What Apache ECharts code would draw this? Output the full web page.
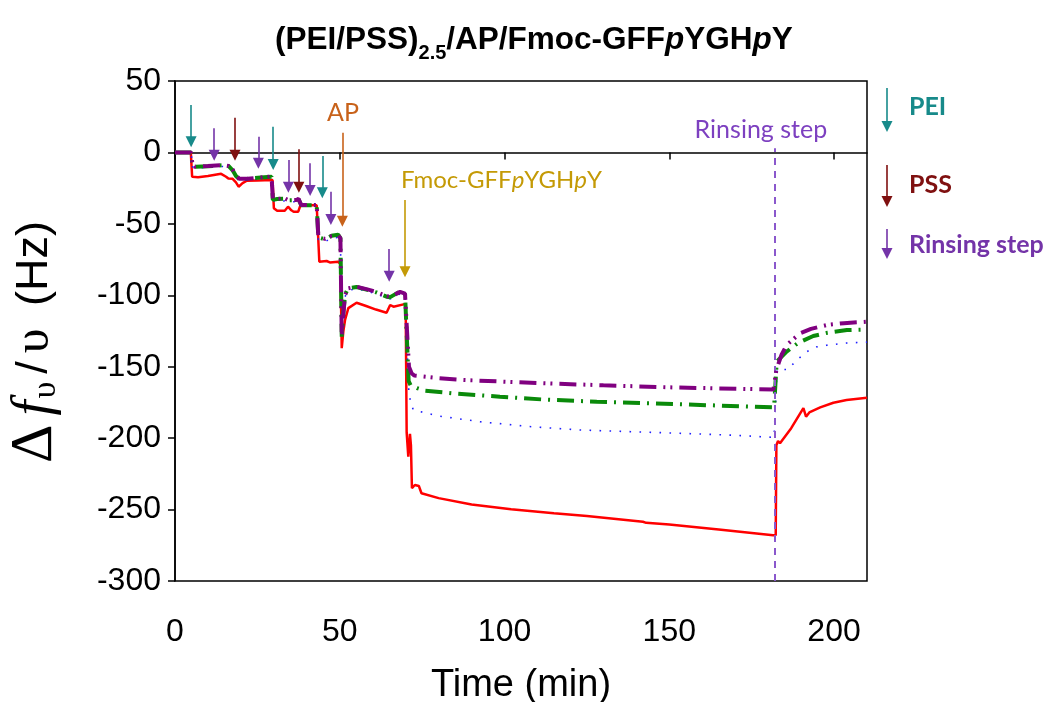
<!DOCTYPE html>
<html>
<head>
<meta charset="utf-8">
<script src="https://cdn.jsdelivr.net/npm/echarts@6/dist/echarts.min.js"></script>
<style>html,body{margin:0;padding:0;background:#fff}#c{width:1048px;height:702px}</style>
</head>
<body>
<div id="c"></div>
<script>
// ---------- data ----------
const xTicks = [0, 50, 100, 150, 200];
const yTicks = [-300, -250, -200, -150, -100, -50, 0, 50];

const tRed = [0,4.8,5.2,7,10,14,15.5,16.2,17.5,18.5,19.3,20.5,21.8,25,29.6,30.0,31,33.3,34.3,35.3,36,37.4,38.1,43,43.5,43.8,46,47,49.5,50.2,50.6,51.1,51.6,52.6,55.1,58,61,64.2,65.3,66.3,70.0,70.3,70.8,71.3,71.6,71.9,72.8,74,74.8,80,90,102,115,125,142,143,150,165,181.5,182.3,182.5,183,183.6,187,190.7,191.5,192.5,195.8,199.8,203.8,210];
const red  = [0,0,-17,-17.3,-16.5,-15,-17,-18.3,-18.5,-21,-24,-21.5,-19.8,-19.6,-19.3,-39,-40.8,-40.8,-38,-40.5,-41.5,-41.5,-36.8,-37,-37.5,-76.5,-76,-77,-76.5,-78,-137,-125,-117.3,-109,-105.2,-107.5,-110,-112.2,-106.8,-108,-106,-196,-213,-197,-205,-235,-232.8,-233.5,-238.6,-242,-246.5,-249.8,-252.5,-254.5,-258.5,-259.3,-260.5,-264,-268,-268,-205,-202,-203.6,-193,-179,-185,-182,-178.5,-175.2,-173.3,-171.7];

const tPurple = [0,4.9,5.3,6,10,14.5,16.3,17.5,18.5,19.5,22,26,29.3,29.7,31,33.3,34.3,36.8,37.5,38.3,43,43.5,45.5,47.5,49.5,50.2,50.6,51.1,51.6,52.6,55.1,58.1,61.1,64.2,65.3,68.3,69.8,70.3,
  71.0,71.8,72.6,80,87.5,111.8,130,151.2,181.6,182.1,182.5,184,185.6,189.7,193,197.8,203,210];
const purple = [0,0,-9,-10,-9.5,-8.8,-9.5,-12,-16,-18.5,-18.5,-17.5,-16.8,-33,-32.5,-32.2,-33.3,-33.3,-32.5,-36.8,-36.8,-59,-60.5,-58.6,-58,-60,-129,-112.6,-99.8,-95.1,-94,-95.7,-97.6,-100.6,-101.1,-97.6,-98.8,-100,
  -150,-154.6,-156.2,-158,-159.3,-161.6,-163,-164.5,-166,-166,-152.3,-142,-134.8,-126.6,-123.5,-120.8,-119.5,-118.5];

const tGreen = [0,4.9,5.3,6,10,14.5,16.3,17.5,18.5,19.5,22,26,29.3,29.7,31,33.3,34.3,36.8,37.5,38.3,43,43.5,45.5,47.5,49.5,50.2,50.6,51.1,51.6,52.6,55.1,58.1,61.1,64.2,65.3,68.3,69.8,70.3,
  70.9,71.5,73.4,75.9,85,98.6,112,128,151.2,165,181.8,182.2,182.6,185.6,189,193.7,198,203.9,210];
const green = [0,0,-9.5,-10,-9.7,-9,-9.6,-12.5,-16.5,-18.7,-18.5,-17.6,-17,-33.2,-32.6,-32.4,-33.5,-33.4,-32.8,-37,-37,-59.5,-60.8,-58.3,-57.6,-60,-129,-112,-99.5,-95,-94.2,-96,-98,-101,-101.3,-97.3,-98.6,-100,
  -160,-163,-165,-166.8,-168.8,-171,-173,-174.5,-176.1,-177.2,-178.5,-178,-146.5,-139.5,-133.5,-128.5,-126.2,-124.3,-124];

const tBlue = [0,4.9,5.3,6,10,14.5,16.3,17.5,18.5,19.5,22,26,29.3,29.7,31,33.3,34.3,36.8,37.5,38.3,43,43.5,45.5,47.5,49.5,50.2,50.6,51.1,51.6,52.6,55.1,58.1,61.1,64.2,65.3,68.3,69.8,70.3,
  71,72.3,80,92.6,107,122.9,153.2,170,181.8,182.3,182.7,186,188.7,191.7,194.7,197.7,203.8,210];
const blue = [0,0,-10,-11,-10.5,-9.8,-10.5,-13,-17,-19.5,-19.5,-18.5,-17.8,-34,-34,-34,-34.5,-34.5,-33.5,-37.5,-37.5,-61,-62.5,-60,-59.5,-61,-128,-113,-101,-96.5,-95.5,-97,-99,-102,-102.5,-99,-100,-101,
  -170,-180.3,-184.5,-188.5,-191.8,-194.3,-196.6,-198,-199.5,-199,-152,-152,-145.3,-139.5,-136.1,-135,-133.4,-132.8];

// injection / rinsing arrows (time, top value, tip value, kind)
const arrowTimes = [4.9, 11.9, 18.2, 25.3, 29.8, 34.4, 37.6, 41.0, 44.7, 47.3, 50.8, 65.0, 69.8];
const arrowTops  = [33.2, 16.9, 24.3, 11.0, 18.0, -5.3, 2.2, -7.6, -2.5, -27.5, 13.8, -67.6, -33.3];
const arrowTips  = [3.6, -5.8, -5.8, -11.4, -12.3, -28.2, -28.2, -30.5, -32.1, -50.8, -52.0, -90.5, -87.4];
const arrowKinds = ['PEI','rinse','PSS','rinse','PEI','rinse','PSS','rinse','PEI','rinse','AP','rinse','Fmoc'];
const rinseTime = 182;

// ---------- styling ----------
const C = {
  PEI: '#178a8a', PSS: '#7f1010', rinse: '#7434a8', AP: '#c8621a', Fmoc: '#c49a06',
  rinseLine: '#8a58cc', rinseText: '#7d40c0'
};
const AX = 'Liberation Sans, Arial, sans-serif';
const SR = 'Liberation Serif, Times New Roman, serif';
const LB = 'Lato, Carlito, sans-serif';
const headHalf = 3.9; // half of arrow head height in Hz units

const zip = (t, v) => t.map((x, i) => [x, v[i]]);

const arrowLines = arrowTimes.map((t, i) => [
  { coord: [t, arrowTops[i]], lineStyle: { color: C[arrowKinds[i]], width: 1.6, type: 'solid' } },
  { coord: [t, arrowTips[i] + headHalf] }
]);
arrowLines.push([
  { coord: [rinseTime, -300], symbol: 'none', lineStyle: { color: C.rinseLine, width: 2, type: [7, 6] } },
  { coord: [rinseTime, 3], symbol: 'none' }
]);

const hidden = { color: 'rgba(0,0,0,0)' };
const markTexts = [
  { coord: [51.0, 27.5], symbol: 'rect', symbolSize: 1, itemStyle: hidden,
    label: { show: true, position: 'inside', formatter: 'AP', color: C.AP, fontSize: 25, fontFamily: LB } },
  { coord: [68.4, -19.3], symbol: 'rect', symbolSize: 1, itemStyle: hidden,
    label: { show: true, position: 'right', distance: 0, formatter: '{a|Fmoc-GFF}{b|p}{a|YGH}{b|p}{a|Y}',
      rich: { a: { color: C.Fmoc, fontSize: 24, fontFamily: LB }, b: { color: C.Fmoc, fontSize: 24, fontFamily: LB, fontStyle: 'italic' } } } },
  { coord: [177.8, 15.6], symbol: 'rect', symbolSize: 1, itemStyle: hidden,
    label: { show: true, position: 'inside', formatter: 'Rinsing step', color: C.rinseText, fontSize: 25, fontFamily: LB } }
];

function legendArrow(x, y0, y1, color) {
  return [
    { type: 'line', shape: { x1: x, y1: y0, x2: x, y2: y1 - 8 }, style: { stroke: color, lineWidth: 1.6 } },
    { type: 'polygon', shape: { points: [[x - 5.5, y1 - 11], [x + 5.5, y1 - 11], [x, y1]] }, style: { fill: color } }
  ];
}
const legendItems = [
  ...legendArrow(887, 88, 132, C.PEI),
  { type: 'text', left: 909, top: 94, style: { text: 'PEI', fill: C.PEI, font: 'bold 25px ' + LB } },
  ...legendArrow(887, 165, 207, C.PSS),
  { type: 'text', left: 909, top: 172, style: { text: 'PSS', fill: C.PSS, font: 'bold 25px ' + LB } },
  ...legendArrow(887, 229, 259, C.rinse),
  { type: 'text', left: 909, top: 232, style: { text: 'Rinsing step', fill: C.rinse, font: 'bold 25px ' + LB } }
];

const chart = echarts.init(document.getElementById('c'));
chart.setOption({
  animation: false,
  backgroundColor: '#fff',
  title: {
    left: 270, top: 12,
    text: '{m|(PEI/PSS)}{s|2.5}{m|/AP/Fmoc-GFF}{i|p}{m|YGH}{i|p}{m|Y}',
    textStyle: {
      rich: {
        m: { fontFamily: AX, fontWeight: 'bold', fontSize: 31.5, color: '#000', lineHeight: 46, verticalAlign: 'middle' },
        i: { fontFamily: AX, fontWeight: 'bold', fontStyle: 'italic', fontSize: 31.5, color: '#000', lineHeight: 46, verticalAlign: 'middle' },
        s: { fontFamily: AX, fontWeight: 'bold', fontSize: 20, color: '#000', lineHeight: 20, verticalAlign: 'bottom' }
      }
    }
  },
  grid: { left: 175, right: 181, top: 81, bottom: 121, show: true, borderColor: '#000', borderWidth: 1.5,
    backgroundColor: 'transparent', containLabel: false, outerBoundsMode: 'none' },
  xAxis: {
    type: 'value', min: xTicks[0], max: 210, interval: 50,
    axisLine: { lineStyle: { color: '#000', width: 1.5 } },
    axisTick: { show: true, inside: false, length: 7, lineStyle: { color: '#000', width: 1.5 } },
    axisLabel: { color: '#000', fontSize: 32, fontFamily: AX, margin: 35, showMaxLabel: false,
      formatter: v => (xTicks.indexOf(v) >= 0 ? String(v) : '') },
    splitLine: { show: false },
    name: 'Time (min)', nameLocation: 'middle', nameGap: 86,
    nameTextStyle: { color: '#000', fontSize: 38, fontFamily: AX }
  },
  yAxis: {
    type: 'value', min: yTicks[0], max: yTicks[yTicks.length - 1], interval: 50,
    axisLine: { lineStyle: { color: '#000', width: 1.5 } },
    axisTick: { show: true, inside: false, length: 7, lineStyle: { color: '#000', width: 1.5 } },
    axisLabel: { color: '#000', fontSize: 32, fontFamily: AX, margin: 14 },
    splitLine: { show: false },
    name: '{d|Δ}{i|f}{s|υ}{n|/}{u|υ}{n| (Hz)}', nameLocation: 'middle', nameGap: 112, nameRotate: 90,
    nameTextStyle: {
      padding: [0, 22, 0, 0],
      rich: {
        d: { fontFamily: SR, fontSize: 60, color: '#000', lineHeight: 56, verticalAlign: 'middle', padding: [0, 7, 0, 0] },
        n: { fontFamily: AX, fontSize: 45, color: '#000', lineHeight: 56, verticalAlign: 'middle' },
        u: { fontFamily: SR, fontSize: 50, color: '#000', lineHeight: 56, verticalAlign: 'middle', padding: [0, 10, 0, 8] },
        i: { fontFamily: SR, fontSize: 54, color: '#000', fontStyle: 'italic', lineHeight: 56, verticalAlign: 'middle', padding: [0, 2, 0, 2] },
        s: { fontFamily: SR, fontSize: 34, color: '#000', lineHeight: 34, verticalAlign: 'bottom', padding: [0, 8, 0, 0] }
      }
    }
  },
  graphic: legendItems,
  series: [
    {
      name: 'red', type: 'line', data: zip(tRed, red), showSymbol: false, symbol: 'none',
      lineStyle: { color: '#ff0000', width: 2.5 }, z: 2,
      markLine: { silent: true, symbol: ['none', 'triangle'], symbolSize: 11, label: { show: false },
        animation: false, data: arrowLines },
      markPoint: { silent: true, animation: false, data: markTexts }
    },
    {
      name: 'blue', type: 'line', data: zip(tBlue, blue), showSymbol: false, symbol: 'none',
      lineStyle: { color: '#2020ff', width: 1.6, type: [1.6, 8.4] }, z: 3
    },
    {
      name: 'green', type: 'line', data: zip(tGreen, green), showSymbol: false, symbol: 'none',
      lineStyle: { color: '#0a8a0a', width: 4, type: [17, 7, 2, 7] }, z: 4
    },
    {
      name: 'purple', type: 'line', data: zip(tPurple, purple), showSymbol: false, symbol: 'none',
      lineStyle: { color: '#800080', width: 4, type: [17, 7, 2, 5, 2, 7] }, z: 5
    }
  ]
});
</script>
</body>
</html>
